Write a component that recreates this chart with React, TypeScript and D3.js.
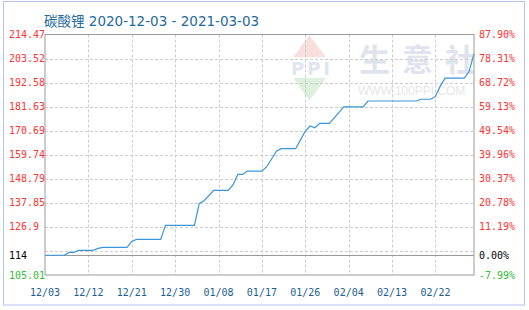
import React from "react";
import * as d3 from "d3";

const title = "碳酸锂 2020-12-03 - 2021-03-03";
const xTickLabels = ["12/03", "12/12", "12/21", "12/30", "01/08", "01/17", "01/26", "02/04", "02/13", "02/22"];
const xTickDays = [0, 9, 18, 27, 36, 45, 54, 63, 72, 81];
const leftLabels = ["214.47", "203.52", "192.58", "181.63", "170.69", "159.74", "148.79", "137.85", "126.9"];
const rightLabels = ["87.90%", "78.31%", "68.72%", "59.13%", "49.54%", "39.96%", "30.37%", "20.78%", "11.19%"];
const baseValue = 114;
const baseLabel = "114";
const basePct = "0.00%";
const minLabel = "105.01";
const minPct = "-7.99%";
const yMin = 105.01;
const yMax = 214.47;
const lastDay = 89;
const watermarkChars = ["生", "意", "社"];

const pointDays = [0, 4, 5, 6, 7, 10, 11, 12, 17, 18, 19, 24, 25, 31, 32, 33, 35, 38, 39, 40, 41, 42, 45, 46, 47, 48, 49, 52, 53, 54, 55, 56, 57, 59, 60, 61, 62, 66, 67, 77, 78, 80, 81, 82, 83, 87, 88, 89];
const prices = [114.0, 114.0, 115.3, 115.3, 116.2, 116.2, 117.1, 117.6, 117.6, 120.3, 121.2, 121.2, 127.6, 127.6, 137.6, 138.8, 143.5, 143.5, 146.0, 150.8, 150.8, 152.3, 152.3, 154.3, 157.8, 161.4, 162.5, 162.5, 166.5, 170.5, 172.8, 172.0, 174.0, 174.0, 176.5, 179.0, 181.5, 181.5, 184.2, 184.2, 185.0, 185.0, 186.3, 191.0, 194.6, 194.6, 197.7, 205.7];

const W = 529;
const H = 310;
const plot = { left: 45, right: 474, top: 34.5, bottom: 275 };

export default function App() {
  const x = d3.scaleLinear().domain([0, lastDay]).range([plot.left, plot.right]);
  const y = d3.scaleLinear().domain([yMin, yMax]).range([plot.bottom, plot.top]);
  const gridVals = d3.range(11).map((i) => yMin + (i * (yMax - yMin)) / 10);
  const data = pointDays.map((d, i) => ({ d, v: prices[i] }));
  const line = d3
    .line<{ d: number; v: number }>()
    .x((p) => x(p.d))
    .y((p) => y(p.v));
  const mono = "'DejaVu Sans Mono', monospace";
  const red = "#ff3333";
  const green = "#33bb33";
  const px = 309.3;

  return (
    <svg width={W} height={H} style={{ position: "absolute", left: 0, top: 0, background: "#fff" }}>
      <defs>
        <clipPath id="plotClip">
          <rect x={plot.left} y={plot.top} width={plot.right - plot.left} height={plot.bottom - plot.top} />
        </clipPath>
      </defs>
      <rect x={3.5} y={1.5} width={521} height={303.5} fill="#fff" stroke="#b4c2f0" strokeWidth={1} />
      {/* watermark logo */}
      <g clipPath="url(#plotClip)">
        <polygon points={`${px},35.3 ${px - 16},57.3 ${px + 16.7},57.3`} fill="#f9dede" />
        <text x={312} y={74.5} textAnchor="middle" fontFamily="'DejaVu Sans', sans-serif" fontWeight="bold" fontSize={18} fill="#dfe5f1" letterSpacing={3}>PPI</text>
        <polygon points={`${px - 16},78 ${px + 16.7},78 ${px},100.7`} fill="#ddf0dd" />
        {watermarkChars.map((c, i) => (
          <text key={c} x={359 + i * 43} y={71} fontFamily="'Noto Sans CJK SC', sans-serif" fontWeight="bold" fontSize={31} fill="#dfe3ee">{c}</text>
        ))}
        <text x={358} y={95} fontFamily="'Liberation Sans', Arial, sans-serif" fontSize={12} fill="#e6e6e6">WWW.100PPI.COM</text>
      </g>
      {/* grid */}
      {gridVals.slice(1, 10).map((v, i) => (
        <line key={"h" + i} x1={plot.left} x2={plot.right} y1={Math.round(y(v)) + 0.5} y2={Math.round(y(v)) + 0.5} stroke="#cccccc" strokeDasharray="3,2" />
      ))}
      {xTickDays.slice(1).map((d, i) => (
        <line key={"v" + i} x1={Math.round(x(d)) + 0.5} x2={Math.round(x(d)) + 0.5} y1={plot.top} y2={plot.bottom} stroke="#cccccc" strokeDasharray="3,2" />
      ))}
      {/* base line */}
      <line x1={plot.left} x2={plot.right} y1={Math.round(y(baseValue)) + 0.5} y2={Math.round(y(baseValue)) + 0.5} stroke="#999999" />
      {/* price line */}
      <path d={line(data) || ""} fill="none" stroke="#3a96d6" strokeWidth={1.2} />
      {/* plot border */}
      <rect x={plot.left} y={plot.top} width={plot.right - plot.left} height={plot.bottom - plot.top} fill="none" stroke="#999999" />
      {/* title */}
      <text x={44} y={26} fontFamily="'DejaVu Sans', 'Noto Sans CJK SC', sans-serif" fontSize={13.5} fill="#236a9c">{title}</text>
      {/* left labels */}
      {leftLabels.map((t, i) => (
        <text key={"l" + i} x={9} y={y(gridVals[10 - i])} dy="0.35em" fontFamily={mono} fontSize={10} fill={red}>{t}</text>
      ))}
      <text x={9} y={y(baseValue)} dy="0.35em" fontFamily={mono} fontSize={10} fill="#000">{baseLabel}</text>
      <text x={9} y={y(yMin)} dy="0.35em" fontFamily={mono} fontSize={10} fill={green}>{minLabel}</text>
      {/* right labels */}
      {rightLabels.map((t, i) => (
        <text key={"r" + i} x={479} y={y(gridVals[10 - i])} dy="0.35em" fontFamily={mono} fontSize={10} fill={red}>{t}</text>
      ))}
      <text x={479} y={y(baseValue)} dy="0.35em" fontFamily={mono} fontSize={10} fill="#000">{basePct}</text>
      <text x={479} y={y(yMin)} dy="0.35em" fontFamily={mono} fontSize={10} fill={green}>{minPct}</text>
      {/* x labels */}
      {xTickLabels.map((t, i) => (
        <text key={"x" + i} x={x(xTickDays[i])} y={296} textAnchor="middle" fontFamily={mono} fontSize={10} fill="#1b5e91">{t}</text>
      ))}
    </svg>
  );
}
